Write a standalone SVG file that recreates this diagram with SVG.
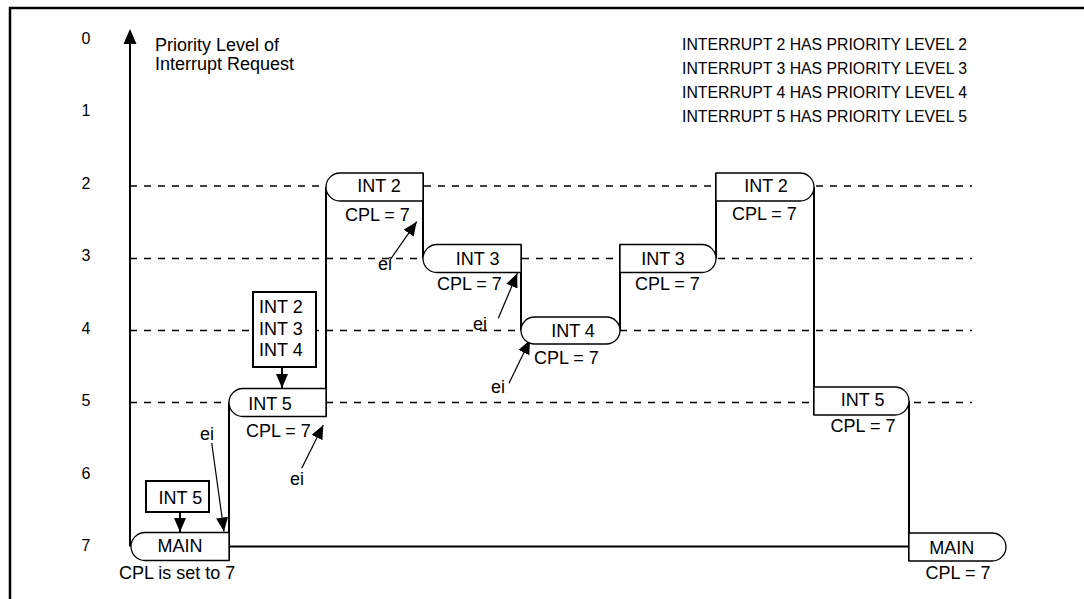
<svg xmlns="http://www.w3.org/2000/svg" width="1084" height="599" viewBox="0 0 1084 599">
<style>
text{font-family:"Liberation Sans",Arial,sans-serif;fill:#000}
.lbl{font-size:18px}
.mid{text-anchor:middle}
.num{font-size:16px;text-anchor:middle}
.leg{font-size:15.8px}
.box{fill:#fff;stroke:#000;stroke-width:1.3}
.sbox{fill:#fff;stroke:#000;stroke-width:2}
.trace{fill:none;stroke:#000;stroke-width:2}
.dash{fill:none;stroke:#000;stroke-width:1.5;stroke-dasharray:7 7}
.ei{fill:none;stroke:#000;stroke-width:1.2;marker-end:url(#ah)}
.dn{fill:none;stroke:#000;stroke-width:2;marker-end:url(#ah)}
</style>
<defs>
<marker id="ah" markerUnits="userSpaceOnUse" markerWidth="15" markerHeight="12" refX="14" refY="6" orient="auto">
<path d="M0,0 L14,6 L0,12 Z" fill="#000"/>
</marker>
</defs>
<rect width="1084" height="599" fill="#fff"/>
<g id="frame">
<path d="M10,599 V8 H1084" fill="none" stroke="#000" stroke-width="2.5"/>
</g>
<g id="axis">
<line x1="130" y1="42" x2="130" y2="546.5" stroke="#000" stroke-width="2"/>
<path d="M130,29 L123.5,44 L136.5,44 Z" fill="#000"/>
<text class="lbl" x="155" y="51">Priority Level of</text>
<text class="lbl" x="155" y="70">Interrupt Request</text>
<text class="num" x="86" y="43.5">0</text>
<text class="num" x="86" y="116">1</text>
<text class="num" x="86" y="188.5">2</text>
<text class="num" x="86" y="261">3</text>
<text class="num" x="86" y="333.5">4</text>
<text class="num" x="86" y="406">5</text>
<text class="num" x="86" y="478.5">6</text>
<text class="num" x="86" y="551">7</text>
</g>
<g id="legend">
<text class="leg" x="682" y="50">INTERRUPT 2 HAS PRIORITY LEVEL 2</text>
<text class="leg" x="682" y="74">INTERRUPT 3 HAS PRIORITY LEVEL 3</text>
<text class="leg" x="682" y="98">INTERRUPT 4 HAS PRIORITY LEVEL 4</text>
<text class="leg" x="682" y="122">INTERRUPT 5 HAS PRIORITY LEVEL 5</text>
</g>
<g id="levels">
<line class="dash" x1="130" y1="186" x2="972" y2="186"/>
<line class="dash" x1="130" y1="258.5" x2="972" y2="258.5"/>
<line class="dash" x1="130" y1="330.5" x2="972" y2="330.5"/>
<line class="dash" x1="130" y1="402.5" x2="972" y2="402.5"/>
</g>
<g id="connectors">
<path class="trace" d="M229,560.5 V402.5"/>
<path class="trace" d="M326,416.5 V187"/>
<path class="trace" d="M423,173 V258.5"/>
<path class="trace" d="M521,244.5 V330.5"/>
<path class="trace" d="M620,330.5 V244.5"/>
<path class="trace" d="M716,258.5 V173"/>
<path class="trace" d="M814,187 V415"/>
<path class="trace" d="M909,401 V561"/>
<path class="trace" d="M229,546.5 H909"/>
<path class="ei" d="M211.7,443 L224,531.5"/>
<path class="ei" d="M301.7,468.3 L323.3,425"/>
<path class="ei" d="M390,260 L416.7,221.7"/>
<path class="ei" d="M498.3,318.3 L517.3,273.3"/>
<path class="ei" d="M509,383.3 L530,340"/>
<path class="dn" d="M282,367 V388"/>
<path class="dn" d="M180,512 V532"/>
</g>
<g id="main1">
<path class="box" d="M145,532.5 H229 V560.5 H145 A14,14 0 0 1 145,532.5 Z"/>
<text class="lbl mid" x="180" y="552">MAIN</text>
<text class="lbl" x="119" y="579">CPL is set to 7</text>
</g>
<g id="int5a">
<path class="box" d="M243,388.5 H326 V416.5 H243 A14,14 0 0 1 243,388.5 Z"/>
<text class="lbl mid" x="270" y="409.5">INT 5</text>
<text class="lbl" x="246" y="437">CPL = 7</text>
</g>
<g id="int2a">
<path class="box" d="M340,173 H423 V201 H340 A14,14 0 0 1 340,173 Z"/>
<text class="lbl mid" x="379" y="192">INT 2</text>
<text class="lbl" x="345" y="221">CPL = 7</text>
</g>
<g id="int3a">
<path class="box" d="M437,244.5 H521 V272.5 H437 A14,14 0 0 1 437,244.5 Z"/>
<text class="lbl mid" x="477.7" y="265">INT 3</text>
<text class="lbl" x="437" y="290">CPL = 7</text>
</g>
<g id="int4">
<path class="box" d="M534.5,317 H606.5 A13.5,13.5 0 0 1 606.5,344 H534.5 A13.5,13.5 0 0 1 534.5,317 Z"/>
<text class="lbl mid" x="573" y="337">INT 4</text>
<text class="lbl" x="534" y="364">CPL = 7</text>
</g>
<g id="int3b">
<path class="box" d="M620,244.5 H702 A14,14 0 0 1 702,272.5 H620 Z"/>
<text class="lbl mid" x="663" y="265">INT 3</text>
<text class="lbl" x="635" y="290">CPL = 7</text>
</g>
<g id="int2b">
<path class="box" d="M716,173 H800 A14,14 0 0 1 800,201 H716 Z"/>
<text class="lbl mid" x="766" y="192">INT 2</text>
<text class="lbl" x="732" y="220">CPL = 7</text>
</g>
<g id="int5b">
<path class="box" d="M814,387 H895 A14,14 0 0 1 895,415 H814 Z"/>
<text class="lbl mid" x="862.7" y="406">INT 5</text>
<text class="lbl mid" x="863" y="432">CPL = 7</text>
</g>
<g id="main2">
<path class="box" d="M909,533 H992 A14,14 0 0 1 992,561 H909 Z"/>
<text class="lbl mid" x="951.7" y="554">MAIN</text>
<text class="lbl mid" x="958" y="579">CPL = 7</text>
</g>
<g id="pending234">
<rect class="sbox" x="253" y="292" width="63" height="75"/>
<text class="lbl" x="259" y="313">INT 2</text>
<text class="lbl" x="259" y="335">INT 3</text>
<text class="lbl" x="259" y="356">INT 4</text>
</g>
<g id="pending5">
<rect class="sbox" x="146" y="481" width="63" height="31"/>
<text class="lbl" x="158.5" y="504">INT 5</text>
</g>
<g id="ei-labels">
<text class="lbl mid" x="207" y="440">ei</text>
<text class="lbl mid" x="297" y="485">ei</text>
<text class="lbl mid" x="385" y="270">ei</text>
<text class="lbl mid" x="480" y="330">ei</text>
<text class="lbl mid" x="498" y="393">ei</text>
</g>
</svg>
